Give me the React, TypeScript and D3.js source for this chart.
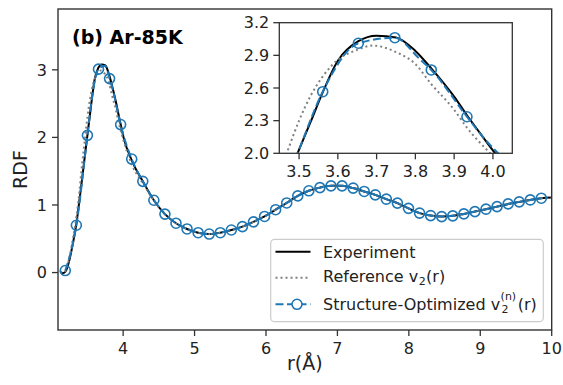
import React from "react";
import * as d3 from "d3";

// ---------- data ----------
// shared tail (r >= 4.43): all three curves coincide there
const tailR = [4.43, 4.585, 4.74, 4.895, 5.05, 5.205, 5.36, 5.515, 5.67, 5.825, 5.98, 6.135, 6.29, 6.445, 6.6, 6.755, 6.91, 7.065, 7.22, 7.375, 7.53, 7.685, 7.84, 7.995, 8.15, 8.305, 8.46, 8.615, 8.77, 8.925, 9.08, 9.235, 9.39, 9.545, 9.7, 9.855];
const tailG = [1.07, 0.865, 0.73, 0.645, 0.59, 0.57, 0.59, 0.63, 0.68, 0.75, 0.83, 0.93, 1.03, 1.135, 1.21, 1.257, 1.283, 1.283, 1.25, 1.2, 1.15, 1.086, 1.027, 0.95, 0.88, 0.843, 0.828, 0.839, 0.868, 0.902, 0.938, 0.976, 1.016, 1.046, 1.075, 1.1];
const endR = [10.0];
const endG = [1.11];

// Experiment (head, r < 4.43)
const expR = [3.12, 3.15, 3.19, 3.22, 3.26, 3.3, 3.345, 3.38, 3.42, 3.46, 3.496, 3.53, 3.561, 3.6, 3.653, 3.7, 3.75, 3.8, 3.841, 3.9, 3.933, 3.97, 4.006, 4.12, 4.275];
const expG = [0.02, -0.01, 0.01, 0.08, 0.24, 0.45, 0.72, 1.0, 1.34, 1.69, 2.0, 2.29, 2.56, 2.85, 3.03, 3.08, 3.065, 2.94, 2.78, 2.52, 2.35, 2.17, 2.0, 1.66, 1.35];

// Reference v2(r) (head)
const refR = [3.12, 3.15, 3.19, 3.22, 3.26, 3.3, 3.345, 3.38, 3.42, 3.468, 3.5, 3.53, 3.56, 3.6, 3.65, 3.69, 3.75, 3.8, 3.84, 3.9, 3.93, 3.993, 4.12, 4.275];
const refG = [0.02, 0.0, 0.02, 0.1, 0.28, 0.52, 0.82, 1.12, 1.55, 2.0, 2.3, 2.53, 2.7, 2.86, 2.95, 2.99, 2.93, 2.82, 2.64, 2.4, 2.25, 2.0, 1.6, 1.32];

// Structure-optimized v2^(n)(r) (head)
const optR = [3.19, 3.345, 3.496, 3.561, 3.653, 3.747, 3.81, 3.841, 3.933, 3.965, 4.12, 4.275];
const optG = [0.03, 0.7, 2.0, 2.566, 3.011, 3.062, 2.87, 2.766, 2.336, 2.19, 1.68, 1.35];

// markers
const mainMarkR = [3.19, 3.345, 3.5, 3.655, 3.81, 3.965, 4.12, 4.275];
const mainMarkG = [0.03, 0.7, 2.03, 3.01, 2.87, 2.19, 1.68, 1.35];
const insetMarkR = [3.561, 3.653, 3.747, 3.841, 3.933];
const insetMarkG = [2.566, 3.011, 3.062, 2.766, 2.336];

const xTicks = [4, 5, 6, 7, 8, 9, 10];
const yTicks = [0, 1, 2, 3];
const insetXTicks = [3.5, 3.6, 3.7, 3.8, 3.9, 4.0];
const insetYTicks = [2.0, 2.3, 2.6, 2.9, 3.2];

const title = "(b) Ar-85K";
const legendLabels = ["Experiment", "Reference v", "Structure-Optimized v"];

// ---------- helpers ----------
const BLUE = "#1f77b4";
const GRAY = "#808080";
const FONT = "DejaVu Sans";

type P = [number, number];
const zip = (r: number[], g: number[]): P[] => r.map((v, i) => [v, g[i]]);

const expPts = zip(expR, expG).concat(zip(tailR, tailG), zip(endR, endG));
const refPts = zip(refR, refG).concat(zip(tailR, tailG), zip(endR, endG));
const optPts = zip(optR, optG).concat(zip(tailR, tailG));
const mainMarks = zip(mainMarkR, mainMarkG).concat(zip(tailR, tailG));
const insetMarks = zip(insetMarkR, insetMarkG);

function measure(text: string, size: number) {
  const c = document.createElement("canvas").getContext("2d");
  if (!c) return text.length * size * 0.6;
  c.font = `${size}px "${FONT}"`;
  return c.measureText(text).width;
}

export default function App() {
  const W = 563, H = 385;
  const L = 58, R = 551.7, T = 9, B = 330;
  const x = d3.scaleLinear().domain([3.088, 10]).range([L, R]);
  const y = d3.scaleLinear().domain([-0.85, 3.9]).range([B, T]);

  const iL = 279.3, iR = 512.3, iT = 22.7, iB = 153.3;
  const xi = d3.scaleLinear().domain([3.449, 4.05]).range([iL, iR]);
  const yi = d3.scaleLinear().domain([2.0, 3.2]).range([iB, iT]);

  const mk = (sx: any, sy: any) =>
    d3.line<P>().x((d) => sx(d[0])).y((d) => sy(d[1])).curve(d3.curveMonotoneX);
  const lm = mk(x, y);
  const li = mk(xi, yi);

  const spine = "#333";
  const tickLen = 6;
  const fs = 16;
  const ss = 11;

  const legX = 323;
  const row3Base = legendLabels[2];
  const w3 = measure(row3Base, fs);
  const w2 = measure(legendLabels[1], fs);
  const subW = measure("2", ss);
  const supW = measure("(n)", ss);

  return (
    <svg width={W} height={H} style={{ position: "absolute", left: 0, top: 0 }} fontFamily={FONT}>
      <defs>
        <clipPath id="mainClip">
          <rect x={L} y={T} width={R - L} height={B - T} />
        </clipPath>
        <clipPath id="insetClip">
          <rect x={iL} y={iT} width={iR - iL} height={iB - iT} />
        </clipPath>
      </defs>
      <rect width={W} height={H} fill="white" />

      {/* main curves */}
      <g clipPath="url(#mainClip)">
        <path d={lm(expPts) || ""} fill="none" stroke="black" strokeWidth={2} />
        <path d={lm(refPts) || ""} fill="none" stroke={GRAY} strokeWidth={2} strokeDasharray="2,3" />
        <path d={lm(optPts) || ""} fill="none" stroke={BLUE} strokeWidth={2} strokeDasharray="8,3.5" />
        {mainMarks.map((d, i) => (
          <circle key={i} cx={x(d[0])} cy={y(d[1])} r={5} fill="none" stroke={BLUE} strokeWidth={1.6} />
        ))}
      </g>

      {/* main axes */}
      <rect x={L} y={T} width={R - L} height={B - T} fill="none" stroke={spine} strokeWidth={1.4} />
      {xTicks.map((t) => (
        <g key={"x" + t}>
          <line x1={x(t)} x2={x(t)} y1={B} y2={B + tickLen} stroke={spine} strokeWidth={1.3} />
          <text x={x(t)} y={B + 24} fontSize={fs} textAnchor="middle" fill="#222">{t}</text>
        </g>
      ))}
      {yTicks.map((t) => (
        <g key={"y" + t}>
          <line x1={L - tickLen} x2={L} y1={y(t)} y2={y(t)} stroke={spine} strokeWidth={1.3} />
          <text x={L - 11} y={y(t)} dy="0.36em" fontSize={fs} textAnchor="end" fill="#222">{t}</text>
        </g>
      ))}
      <text x={(L + R) / 2} y={370} fontSize={19} textAnchor="middle" fill="#222">r(Å)</text>
      <text transform={`translate(27,${(T + B) / 2}) rotate(-90)`} fontSize={19} textAnchor="middle" fill="#222">RDF</text>
      <text x={72} y={44} fontSize={19} fontWeight="bold" fill="black">{title}</text>

      {/* inset */}
      <rect x={iL} y={iT} width={iR - iL} height={iB - iT} fill="white" />
      <g clipPath="url(#insetClip)">
        <path d={li(expPts) || ""} fill="none" stroke="black" strokeWidth={2} />
        <path d={li(refPts) || ""} fill="none" stroke={GRAY} strokeWidth={2} strokeDasharray="2,3" />
        <path d={li(optPts) || ""} fill="none" stroke={BLUE} strokeWidth={2} strokeDasharray="8,3.5" />
        {insetMarks.map((d, i) => (
          <circle key={i} cx={xi(d[0])} cy={yi(d[1])} r={5} fill="none" stroke={BLUE} strokeWidth={1.6} />
        ))}
      </g>
      <rect x={iL} y={iT} width={iR - iL} height={iB - iT} fill="none" stroke={spine} strokeWidth={1.3} />
      {insetXTicks.map((t) => (
        <g key={"ix" + t}>
          <line x1={xi(t)} x2={xi(t)} y1={iB} y2={iB + tickLen} stroke={spine} strokeWidth={1.3} />
          <text x={xi(t)} y={iB + 23.5} fontSize={fs} textAnchor="middle" fill="#222">{t.toFixed(1)}</text>
        </g>
      ))}
      {insetYTicks.map((t) => (
        <g key={"iy" + t}>
          <line x1={iL - tickLen} x2={iL} y1={yi(t)} y2={yi(t)} stroke={spine} strokeWidth={1.3} />
          <text x={iL - 10} y={yi(t)} dy="0.36em" fontSize={fs} textAnchor="end" fill="#222">{t.toFixed(1)}</text>
        </g>
      ))}

      {/* legend */}
      <rect x={270.7} y={239.3} width={272.6} height={82.4} rx={4} fill="white" fillOpacity={0.85} stroke="#cccccc" strokeWidth={1.2} />
      <line x1={275.5} x2={310.5} y1={251.7} y2={251.7} stroke="black" strokeWidth={2} />
      <text x={legX} y={258} fontSize={fs} fill="#222">{legendLabels[0]}</text>

      <line x1={275.5} x2={310.5} y1={277.7} y2={277.7} stroke={GRAY} strokeWidth={2} strokeDasharray="2,3" />
      <text x={legX} y={281.7} fontSize={fs} fill="#222">{legendLabels[1]}</text>
      <text x={legX + w2 + 0.5} y={284.5} fontSize={ss} fill="#222">2</text>
      <text x={legX + w2 + subW + 1} y={281.7} fontSize={fs} fill="#222">(r)</text>

      <line x1={275.5} x2={310.5} y1={304.3} y2={304.3} stroke={BLUE} strokeWidth={2} strokeDasharray="8,3.5" />
      <circle cx={297} cy={304.3} r={5} fill="white" stroke={BLUE} strokeWidth={1.6} />
      <text x={legX} y={310} fontSize={fs} fill="#222">{row3Base}</text>
      <text x={legX + w3 + 1.5} y={313} fontSize={ss} fill="#222">2</text>
      <text x={legX + w3 + 0.5} y={299.5} fontSize={ss} fill="#222">(n)</text>
      <text x={legX + w3 + Math.max(subW, supW) + 2} y={310} fontSize={fs} fill="#222">(r)</text>
    </svg>
  );
}
